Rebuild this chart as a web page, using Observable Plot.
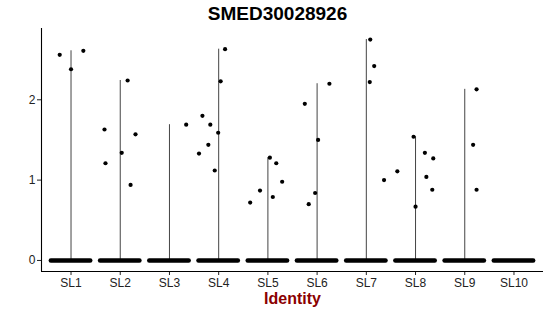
<!DOCTYPE html>
<html>
<head>
<meta charset="utf-8">
<script src="https://cdn.jsdelivr.net/npm/d3@7"></script>
<script src="https://cdn.jsdelivr.net/npm/@observablehq/plot@0.6"></script>
<style>
  html, body { margin: 0; padding: 0; background: #fff; }
  svg { display: block; }
</style>
</head>
<body>
<div id="chart"></div>
<script>
const title = "SMED30028926";
const xLabel = "Identity";
const categories = ["SL1","SL2","SL3","SL4","SL5","SL6","SL7","SL8","SL9","SL10"];
const yTicks = [0, 1, 2];

// non-zero expression values per cell, by cluster
const pointCluster = ["SL1","SL1","SL1",
  "SL2","SL2","SL2","SL2","SL2","SL2",
  "SL3",
  "SL4","SL4","SL4","SL4","SL4","SL4","SL4","SL4",
  "SL5","SL5","SL5","SL5","SL5","SL5",
  "SL6","SL6","SL6","SL6","SL6",
  "SL7","SL7","SL7","SL7",
  "SL8","SL8","SL8","SL8","SL8","SL8","SL8",
  "SL9","SL9","SL9"];
const pointValue = [2.56, 2.38, 2.61,
  1.63, 1.21, 1.34, 2.24, 1.57, 0.94,
  1.69,
  1.80, 1.33, 1.44, 1.69, 1.59, 1.12, 2.23, 2.63,
  1.28, 1.21, 0.98, 0.79, 0.87, 0.72,
  1.95, 1.50, 0.84, 0.70, 2.20,
  2.75, 2.42, 2.22, 1.00,
  1.11, 1.54, 1.34, 1.27, 1.04, 0.88, 0.67,
  2.13, 1.44, 0.88];
// horizontal jitter of each point (in category units), as seen in the picture
const pointJitter = [-0.23, 0.00, 0.25,
  -0.32, -0.30, 0.03, 0.15, 0.31, 0.21,
  0.34,
  -0.33, -0.40, -0.21, -0.17, -0.01, -0.08, 0.04, 0.13,
  0.04, 0.17, 0.29, 0.10, -0.16, -0.36,
  -0.25, 0.02, -0.04, -0.17, 0.25,
  0.08, 0.16, 0.07, 0.36,
  -0.37, -0.04, 0.19, 0.36, 0.22, 0.34, 0.00,
  0.24, 0.17, 0.24];
// most cells in every cluster have zero expression
const zeroValue = 0;
const jitterWidth = 0.4;

const idx = c => categories.indexOf(c) + 1;
const points = pointCluster.map((c, i) => ({cluster: c, value: pointValue[i], jitter: pointJitter[i]}));
const violins = categories
  .map(c => ({cluster: c, max: d3.max(points.filter(p => p.cluster === c), p => p.value)}))
  .filter(d => d.max !== undefined);
const zeros = categories.map(c => ({cluster: c, value: zeroValue}));

const yMax = d3.max(pointValue);
const yDomain = [zeroValue - 0.05 * (yMax - zeroValue), yMax + 0.05 * (yMax - zeroValue)];
const xDomain = [0.4, categories.length + 0.6];

const chart = Plot.plot({
  width: 550,
  height: 316,
  marginTop: 28,
  marginBottom: 45,
  marginLeft: 41,
  marginRight: 7,
  style: {fontFamily: "Liberation Sans, Arial, sans-serif", fontSize: "12px", color: "#222", background: "#fff"},
  x: {domain: xDomain, ticks: d3.range(1, categories.length + 1), tickFormat: d => categories[d - 1], tickSize: 4, tickPadding: 3, label: null},
  y: {domain: yDomain, ticks: yTicks, tickFormat: d3.format("d"), tickSize: 4, tickPadding: 2, label: null},
  marks: [
    Plot.ruleX(violins, {x: d => idx(d.cluster), y1: zeroValue, y2: "max", stroke: "#444", strokeWidth: 1}),
    Plot.ruleY(zeros, {y: "value", x1: d => idx(d.cluster) - jitterWidth, x2: d => idx(d.cluster) + jitterWidth, stroke: "#000", strokeWidth: 4.5, strokeLinecap: "round"}),
    Plot.dot(points, {x: d => idx(d.cluster) + d.jitter, y: "value", r: 2.1, fill: "#000", stroke: "none"}),
    Plot.ruleY([yDomain[0]], {stroke: "#000", strokeWidth: 1.1}),
    Plot.ruleX([xDomain[0]], {stroke: "#000", strokeWidth: 1.1}),
    Plot.text([title], {frameAnchor: "top", lineAnchor: "middle", dy: -14.5, dx: -15, fontSize: 19, fontWeight: "bold", fill: "#000"}),
    Plot.text([xLabel], {frameAnchor: "bottom", lineAnchor: "middle", dy: 27.5, fontSize: 16, fontWeight: "bold", fill: "#8B0000"})
  ]
});
document.getElementById("chart").appendChild(chart);
</script>
</body>
</html>
